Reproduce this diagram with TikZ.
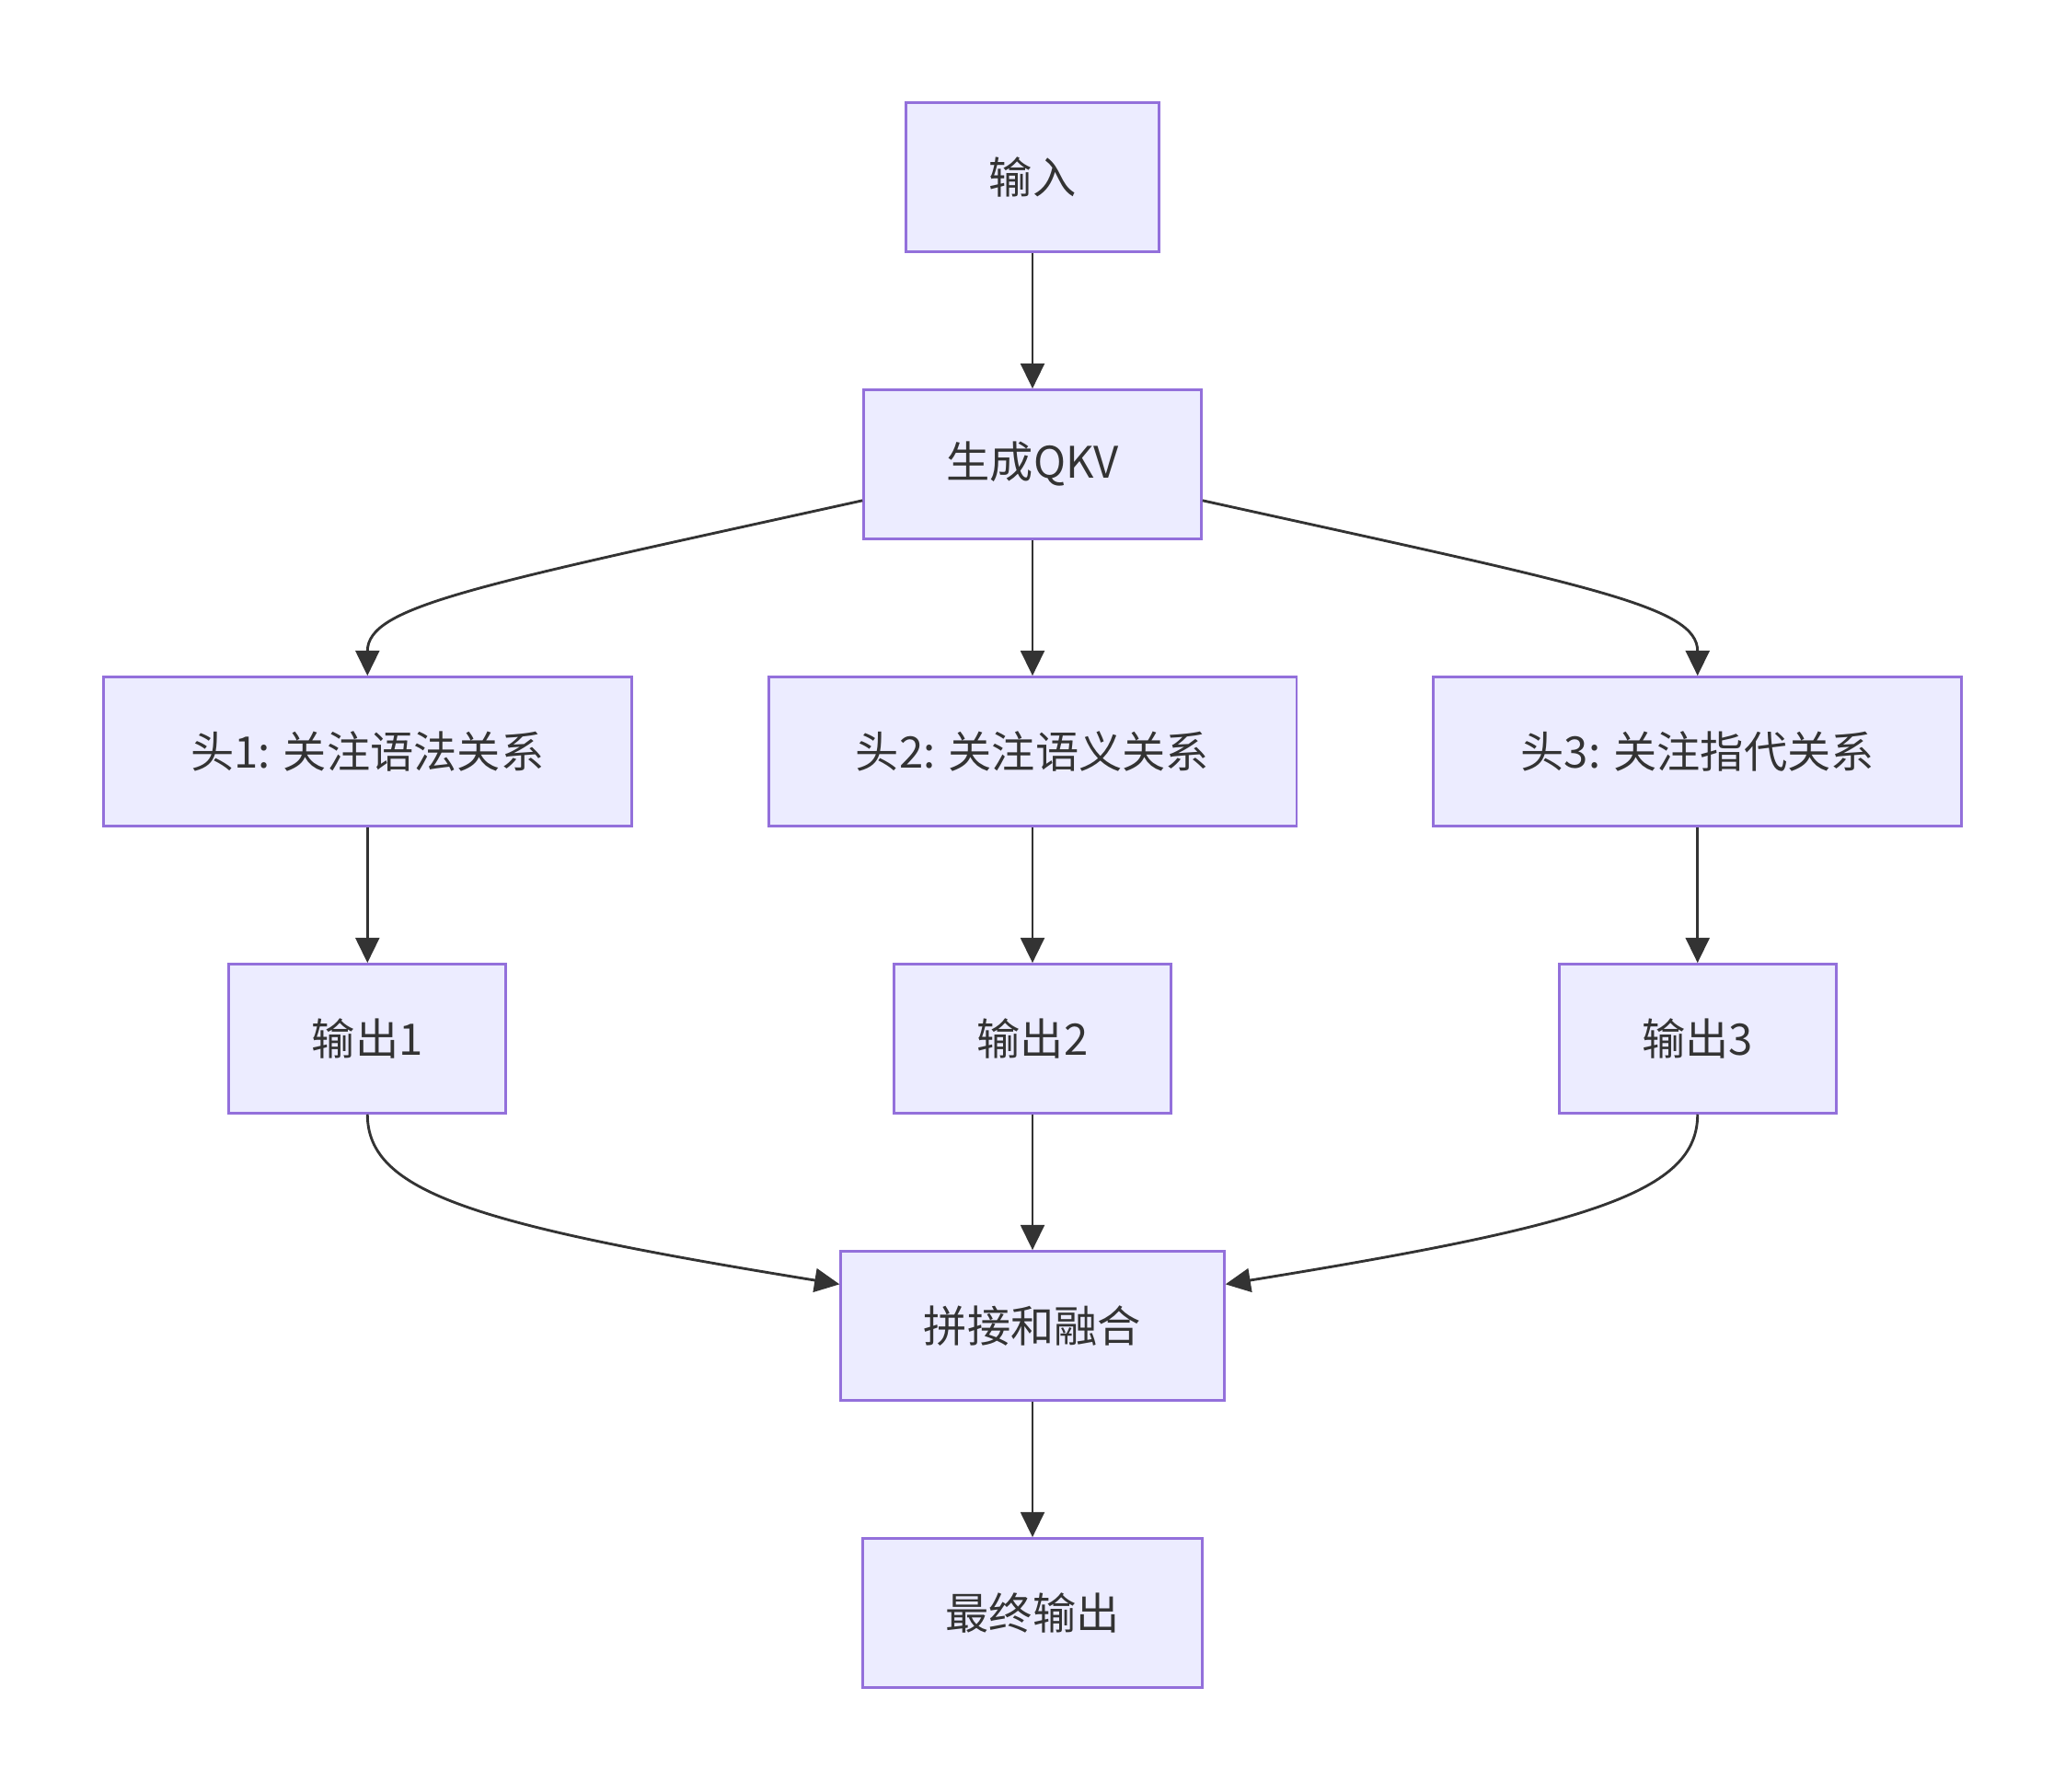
\documentclass[tikz,border=0pt]{standalone}
\usepackage{fontspec}
\setmainfont{Noto Sans CJK SC}
\usetikzlibrary{positioning, arrows.meta}
\definecolor{boxfill}{HTML}{ECECFF}
\definecolor{boxline}{HTML}{9370DB}
\definecolor{edgecol}{HTML}{333333}

\begin{document}
\begin{tikzpicture}[x=1pt, y=-1pt, node distance=218pt and 505pt, on grid,
    block/.style={draw=boxline, fill=boxfill, line width=2pt, minimum height=113pt,
        inner xsep=63pt, text=edgecol, font=\fontsize{33}{40}\selectfont},
    head/.style={block, minimum width=401pt},
    flow/.style={draw=edgecol, line width=2pt, -{Triangle[length=19pt, width=18pt]}}]
    \useasboundingbox (0,0) rectangle (1568,1360);
    \node[block] (in) at (784,134.5) {输入};
    \node[block] (qkv) [below=of in] {生成QKV};
    \node[head] (h2) [below=of qkv] {头2: 关注语义关系};
    \node[head] (h1) [left=of h2] {头1: 关注语法关系};
    \node[head] (h3) [right=of h2] {头3: 关注指代关系};
    \node[block] (o1) [below=of h1] {输出1};
    \node[block] (o2) [below=of h2] {输出2};
    \node[block] (o3) [below=of h3] {输出3};
    \node[block] (fuse) [below=of o2] {拼接和融合};
    \node[block] (out) [below=of fuse] {最终输出};
        % straight edges
        \path[flow] (in) -- (qkv);
        \path[flow] (qkv) -- (h2);
        \path[flow] (h1) -- (o1);
        \path[flow] (h2) -- (o2);
        \path[flow] (h3) -- (o3);
        \path[flow] (o2) -- (fuse);
        \path[flow] (fuse) -- (out);
        % curved edges
        \path[flow] ([yshift=-27.5pt]qkv.west) .. controls (360,445) and (279,460) .. (h1.north);
        \path[flow] ([yshift=-27.5pt]qkv.east) .. controls (1208,445) and (1289,460) .. (h3.north);
        \path[flow] (o1.south) .. controls (279,905) and (360,930) .. ([yshift=31.5pt]fuse.west);
        \path[flow] (o3.south) .. controls (1289,905) and (1208,930) .. ([yshift=31.5pt]fuse.east);

\end{tikzpicture}
\end{document}
